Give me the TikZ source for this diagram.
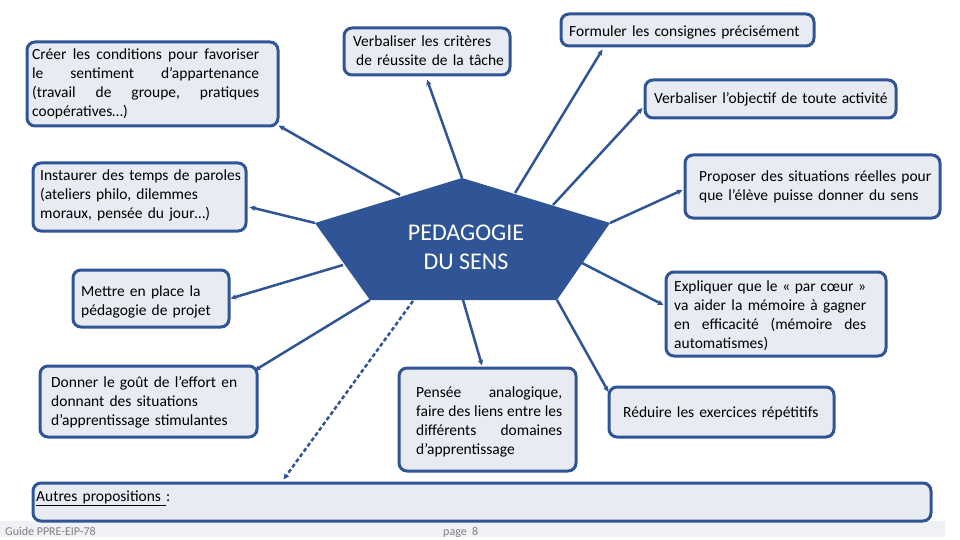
\documentclass[tikz,border=0pt]{standalone}
\usepackage{fontspec}
\setmainfont{Carlito}
\usetikzlibrary{arrows.meta}
\definecolor{bord}{RGB}{47,85,151}
\definecolor{boxfill}{RGB}{232,235,242}
\definecolor{footgray}{RGB}{128,128,128}
\definecolor{stripgray}{RGB}{240,241,245}
\newcommand{\jl}[2]{\leavevmode\hbox to #1{#2}}
\begin{document}
\begin{tikzpicture}[x=1pt,y=-1pt,
  box/.style={draw=bord, fill=boxfill, line width=3pt, rounded corners=8pt, inner sep=0pt},
  txt/.style={inner sep=0pt, anchor=base west, font=\fontsize{15.5}{19}\selectfont, text width=300pt},
  foottxt/.style={inner sep=0pt, anchor=base west, font=\fontsize{12}{14}\selectfont, text=footgray},
  link/.style={draw=bord, line width=2.5pt, -{Stealth[length=6pt,width=5.5pt]}},
  dlink/.style={link, dash pattern=on 4pt off 2.5pt},
  title/.style={inner sep=0pt, text=white, align=center, font=\fontsize{24}{29}\selectfont},
]
\useasboundingbox (0,0) rectangle (960,540);
\fill[stripgray] (0,521) rectangle (945,537);

% pentagon
\coordinate (pt) at (462,178);
\coordinate (pr) at (610,223);
\coordinate (pbr) at (557,300);
\coordinate (pbl) at (370,300);
\coordinate (pl) at (315,223);
\fill[bord] (pt) -- (pr) -- (pbr) -- (pbl) -- (pl) -- cycle;
\node[title] (center) at (466,247.5) {PEDAGOGIE\\DU SENS};

% start points of connectors on the pentagon
\coordinate (s1) at (400,195);
\coordinate (s2) at (315,223);
\coordinate (s3) at (343,265);
\coordinate (s4) at (370,300);
\coordinate (s5) at (413,301);
\coordinate (s6) at (463,300);
\coordinate (s7) at (557,300);
\coordinate (s8) at (582,263);
\coordinate (s9) at (610,223);
\coordinate (s10) at (553,205);
\coordinate (s11) at (515,193);
\coordinate (s12) at (462,178);

% boxes
\node[box, minimum width=251pt, minimum height=84pt] (cree) at (152.5,84) {};
\node[box, minimum width=213pt, minimum height=68pt] (inst) at (139.5,197) {};
\node[box, minimum width=156pt, minimum height=57pt] (mett) at (151,298.5) {};
\node[box, minimum width=217pt, minimum height=71pt] (donn) at (148.5,401.5) {};
\node[box, minimum width=166pt, minimum height=47pt] (verb1) at (427,51.5) {};
\node[box, minimum width=253pt, minimum height=32pt] (form) at (687.5,30) {};
\node[box, minimum width=251pt, minimum height=38pt] (verb2) at (770.5,99) {};
\node[box, minimum width=255pt, minimum height=63pt] (prop) at (812.5,186.5) {};
\node[box, minimum width=220pt, minimum height=84pt] (expl) at (776,314) {};
\node[box, minimum width=225pt, minimum height=50pt] (redu) at (721.5,412) {};
\node[box, minimum width=177pt, minimum height=103pt] (pens) at (487.5,419.5) {};
\node[box, minimum width=898pt, minimum height=38pt] (autr) at (482,502) {};

% texts
\node[txt] (creeT) at (32,60) {\jl{227pt}{Créer\hfill les\hfill conditions\hfill pour\hfill favoriser}\\\jl{227pt}{le\hfill sentiment\hfill d’appartenance}\\\jl{227pt}{(travail\hfill de\hfill groupe,\hfill pratiques}\\coopératives…)};
\node[txt] (instT) at (40,180) {Instaurer des temps de paroles\\(ateliers philo, dilemmes\\moraux, pensée du jour…)};
\node[txt] (mettT) at (81,296) {Mettre en place la\\pédagogie de projet};
\node[txt] (donnT) at (51,387) {Donner le goût de l’effort en\\donnant des situations\\d’apprentissage stimulantes};
\node[txt] (verb1T) at (353,47) {Verbaliser les critères\\\hspace*{3pt}de réussite de la tâche};
\node[txt] (formT) at (569,37) {Formuler les consignes précisément};
\node[txt] (verb2T) at (654,104) {Verbaliser l’objectif de toute activité};
\node[txt] (propT) at (699,182) {Proposer des situations réelles pour\\que l’élève puisse donner du sens};
\node[txt] (explT) at (674,291) {\jl{192pt}{Expliquer\hfill que\hfill le\hfill «\hfill par\hfill cœur\hfill »}\\\jl{192pt}{va\hfill aider\hfill la\hfill mémoire\hfill à\hfill gagner}\\\jl{192pt}{en\hfill efficacité\hfill (mémoire\hfill des}\\automatismes)};
\node[txt] (reduT) at (623,417) {Réduire les exercices répétitifs};
\node[txt] (pensT) at (416,397) {\jl{146pt}{Pensée\hfill analogique,}\\\jl{146pt}{faire\hfill des\hfill liens\hfill entre\hfill les}\\\jl{146pt}{différents\hfill domaines}\\d’apprentissage};
\node[txt] (autrT) at (36,501) {\underline{Autres propositions\ }:};

% footer
\node[foottxt] (guide) at (5,535) {Guide PPRE-EIP-78};
\node[foottxt] (page) at (443,535) {page~~8};

% connectors
\draw[link] (s1) -- ([xshift=-1pt,yshift=2pt]cree.south east);
\draw[link] (s2) -- ([xshift=2pt,yshift=-10pt]inst.east);
\draw[link] (s3) -- (mett.east);
\draw[link] (s4) -- ([xshift=-4pt,yshift=-6pt]donn.north east);
\draw[dlink] (s5) -- ([xshift=252pt,yshift=2pt]autr.north west);
\draw[link] (s6) -- ([xshift=-5.5pt,yshift=1pt]pens.north);
\draw[link] (s7) -- ([xshift=1pt,yshift=20pt]redu.west);
\draw[link] (s8) -- ([xshift=-1pt,yshift=9pt]expl.west);
\draw[link] (s9) -- ([xshift=-1pt,yshift=-3.5pt]prop.west);
\draw[link] (s10) -- ([xshift=-1pt,yshift=-9pt]verb2.west);
\draw[link] (s11) -- ([xshift=-85pt,yshift=-2pt]form.south);
\draw[link] (s12) -- ([yshift=-3pt]verb1.south);
\end{tikzpicture}
\end{document}
